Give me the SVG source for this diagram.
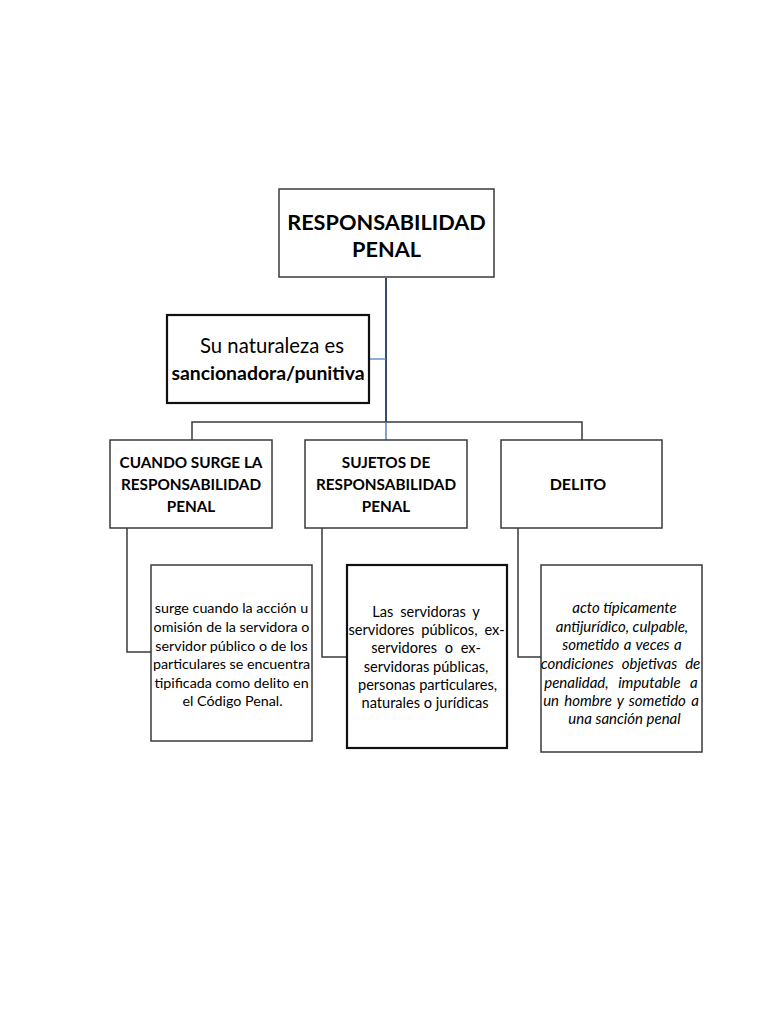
<svg xmlns="http://www.w3.org/2000/svg" width="768" height="1024" viewBox="0 0 768 1024">
<style>
.box{fill:#fff;stroke:#3a3a3a;stroke-width:1.5}
.bx2{fill:#fff;stroke:#111;stroke-width:2.2}
.c{fill:none;stroke:#3a3a3a;stroke-width:1.5}
.t{font-family:Lato,"Liberation Sans",sans-serif;fill:#000;text-anchor:middle}
.b{font-weight:bold}
.i{font-style:italic}
.h{font-size:15.3px;font-weight:bold}
.d{font-size:14.3px}
.s{font-size:14.6px}
.e{font-size:15px;font-style:italic}
</style>
<rect width="768" height="1024" fill="#fff"/>
<g id="connectors">
<path class="c" d="M192,440 V422 H582 V440"/>
<path d="M386,278 V422" fill="none" stroke="#1f3a5c" stroke-width="1.8"/>
<path d="M386,422 V440" fill="none" stroke="#4f86c6" stroke-width="1.5"/>
<path d="M369,359 H386" fill="none" stroke="#4f86c6" stroke-width="1.3"/>
<path class="c" d="M127,528 V652 H151"/>
<path class="c" d="M322,528 V657 H347"/>
<path class="c" d="M518,528 V657 H541"/>
</g>
<g id="root">
<rect class="box" x="279" y="189" width="215" height="88"/>
<text class="t b" x="386.5" y="230" font-size="21.7">RESPONSABILIDAD</text>
<text class="t b" x="386.5" y="257" font-size="21.7">PENAL</text>
</g>
<g id="naturaleza">
<rect class="bx2" x="167" y="315" width="202" height="88"/>
<text class="t" x="272" y="353" font-size="20.3">Su naturaleza es</text>
<text class="t b" x="268" y="380" font-size="19.4">sancionadora/punitiva</text>
</g>
<g id="cuando">
<rect class="box" x="110" y="440" width="162" height="88"/>
<text class="t h" x="191" y="468">CUANDO SURGE LA</text>
<text class="t h" x="191" y="490">RESPONSABILIDAD</text>
<text class="t h" x="191" y="512">PENAL</text>
</g>
<g id="sujetos">
<rect class="box" x="305" y="440" width="162" height="88"/>
<text class="t h" x="386" y="468">SUJETOS DE</text>
<text class="t h" x="386" y="490">RESPONSABILIDAD</text>
<text class="t h" x="386" y="512">PENAL</text>
</g>
<g id="delito">
<rect class="box" x="501" y="440" width="161" height="88"/>
<text class="t b" x="578" y="490" font-size="16">DELITO</text>
</g>
<g id="detalle-cuando">
<rect class="box" x="151" y="565" width="161" height="176"/>
<text class="t d" x="231.5" y="613">surge cuando la acción u</text>
<text class="t d" x="231.5" y="632">omisión de la servidora o</text>
<text class="t d" x="231.5" y="651">servidor público o de los</text>
<text class="t d" x="231.5" y="669">particulares se encuentra</text>
<text class="t d" x="231.5" y="688">tipificada como delito en</text>
<text class="t d" x="232.5" y="706">el Código Penal.</text>
</g>
<g id="detalle-sujetos">
<rect class="bx2" x="347" y="565" width="160" height="183"/>
<text class="t s" x="426" y="617" word-spacing="3.2">Las servidoras y</text>
<text class="t s" x="426.5" y="635" word-spacing="3.3">servidores públicos, ex-</text>
<text class="t s" x="426" y="653" word-spacing="4">servidores o ex-</text>
<text class="t s" x="426" y="672">servidoras públicas,</text>
<text class="t s" x="427.5" y="690">personas particulares,</text>
<text class="t s" x="425" y="708">naturales o jurídicas</text>
</g>
<g id="detalle-delito">
<rect class="box" x="541" y="565" width="161" height="187"/>
<text class="t e" x="624.5" y="613">acto típicamente</text>
<text class="t e" x="622" y="632">antijurídico, culpable,</text>
<text class="t e" x="622" y="650" word-spacing="1">sometido a veces a</text>
<text class="t e" x="620.5" y="669" word-spacing="4.5">condiciones objetivas de</text>
<text class="t e" x="621" y="688" word-spacing="6">penalidad, imputable a</text>
<text class="t e" x="621" y="706" word-spacing="1.75">un hombre y sometido a</text>
<text class="t e" x="624.5" y="724">una sanción penal</text>
</g>
</svg>
